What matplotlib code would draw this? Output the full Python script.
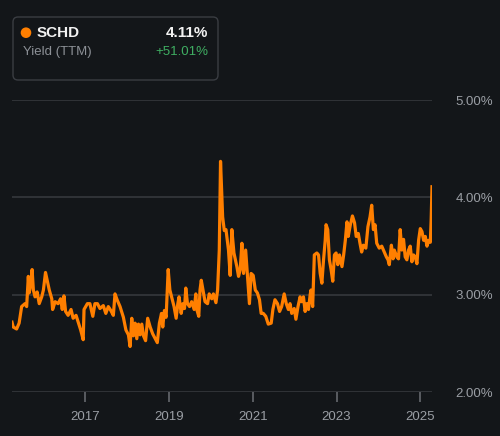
import matplotlib
matplotlib.use("Agg")
import matplotlib.pyplot as plt
from matplotlib.patches import FancyBboxPatch, Circle
from matplotlib.transforms import IdentityTransform

plt.rcParams['font.family'] = ['Liberation Sans', 'DejaVu Sans']

# --- datos: rendimiento SCHD (TTM), fecha en años decimales ---
years = [2015.25, 2015.28, 2015.36, 2015.42, 2015.48, 2015.56, 2015.60, 2015.64, 2015.66, 2015.70,
         2015.73, 2015.76, 2015.80, 2015.85, 2015.90, 2015.96, 2016.00, 2016.05, 2016.09, 2016.14,
         2016.20, 2016.22, 2016.28, 2016.35, 2016.41, 2016.45, 2016.49, 2016.53, 2016.59, 2016.66,
         2016.71, 2016.78, 2016.84, 2016.89, 2016.95, 2016.97, 2017.05, 2017.11, 2017.18, 2017.23,
         2017.29, 2017.35, 2017.43, 2017.49, 2017.55, 2017.61, 2017.67, 2017.71, 2017.76, 2017.83,
         2017.91, 2017.97, 2018.03, 2018.07, 2018.11, 2018.15, 2018.19, 2018.23, 2018.27, 2018.31,
         2018.35, 2018.39, 2018.44, 2018.49, 2018.55, 2018.61, 2018.67, 2018.72, 2018.77, 2018.82,
         2018.85, 2018.89, 2018.93, 2018.98, 2019.02, 2019.08, 2019.12, 2019.17, 2019.21, 2019.24,
         2019.29, 2019.33, 2019.37, 2019.40, 2019.44, 2019.49, 2019.54, 2019.60, 2019.64, 2019.67,
         2019.71, 2019.74, 2019.77, 2019.81, 2019.86, 2019.92, 2019.96, 2020.02, 2020.06, 2020.12,
         2020.16, 2020.20, 2020.23, 2020.26, 2020.28, 2020.32, 2020.36, 2020.42, 2020.46, 2020.50,
         2020.55, 2020.62, 2020.66, 2020.70, 2020.74, 2020.78, 2020.83, 2020.88, 2020.92, 2020.96,
         2021.01, 2021.06, 2021.11, 2021.16, 2021.20, 2021.25, 2021.31, 2021.37, 2021.44, 2021.48,
         2021.53, 2021.59, 2021.64, 2021.69, 2021.75, 2021.80, 2021.85, 2021.89, 2021.93, 2021.99,
         2022.03, 2022.08, 2022.13, 2022.17, 2022.21, 2022.25, 2022.29, 2022.33, 2022.37, 2022.39,
         2022.43, 2022.47, 2022.53, 2022.57, 2022.61, 2022.65, 2022.69, 2022.73, 2022.75, 2022.79,
         2022.83, 2022.87, 2022.91, 2022.95, 2022.99, 2023.03, 2023.07, 2023.13, 2023.17, 2023.21,
         2023.25, 2023.28, 2023.33, 2023.38, 2023.43, 2023.47, 2023.52, 2023.56, 2023.60, 2023.64,
         2023.70, 2023.75, 2023.80, 2023.84, 2023.88, 2023.92, 2023.96, 2024.02, 2024.08, 2024.14,
         2024.19, 2024.23, 2024.26, 2024.31, 2024.35, 2024.38, 2024.44, 2024.48, 2024.52, 2024.56,
         2024.60, 2024.64, 2024.68, 2024.72, 2024.76, 2024.80, 2024.84, 2024.88, 2024.92, 2024.96,
         2025.00, 2025.04, 2025.08, 2025.12, 2025.16, 2025.20, 2025.24, 2025.26, 2025.28]

yield_pct = [2.72, 2.67, 2.65, 2.71, 2.88, 2.91, 2.88, 3.19, 3.02, 3.12,
             3.26, 3.05, 2.98, 3.03, 2.91, 2.98, 3.05, 3.23, 3.15, 3.05,
             2.96, 2.85, 2.93, 2.91, 2.96, 2.85, 2.99, 2.83, 2.79, 2.85,
             2.76, 2.79, 2.71, 2.64, 2.54, 2.85, 2.91, 2.91, 2.78, 2.91,
             2.91, 2.86, 2.89, 2.81, 2.88, 2.84, 2.79, 3.01, 2.95, 2.88,
             2.77, 2.64, 2.59, 2.47, 2.76, 2.58, 2.71, 2.55, 2.70, 2.59,
             2.70, 2.58, 2.53, 2.76, 2.67, 2.60, 2.55, 2.51, 2.71, 2.81,
             2.67, 2.84, 2.77, 3.26, 3.05, 2.95, 2.88, 2.76, 2.91, 2.98,
             2.81, 2.91, 2.86, 3.07, 2.91, 2.88, 2.93, 2.85, 3.01, 2.84,
             2.78, 3.05, 3.15, 3.05, 2.93, 2.91, 3.01, 2.96, 3.01, 2.92,
             3.05, 3.46, 4.37, 4.04, 3.80, 3.66, 3.67, 3.46, 3.20, 3.67,
             3.43, 3.29, 3.19, 3.26, 3.53, 3.22, 3.46, 3.15, 2.91, 3.22,
             3.20, 3.05, 3.02, 2.95, 2.81, 2.81, 2.78, 2.70, 2.71, 2.85,
             2.95, 2.91, 2.83, 2.88, 3.01, 2.91, 2.85, 2.91, 2.81, 2.86,
             2.75, 2.88, 2.98, 2.93, 2.98, 2.83, 2.91, 2.85, 3.00, 3.05,
             2.88, 3.41, 3.43, 3.41, 3.22, 3.12, 3.36, 3.56, 3.72, 3.67,
             3.36, 3.26, 3.14, 3.41, 3.43, 3.31, 3.41, 3.29, 3.41, 3.56,
             3.75, 3.60, 3.72, 3.81, 3.74, 3.60, 3.63, 3.53, 3.44, 3.51,
             3.48, 3.70, 3.80, 3.92, 3.67, 3.72, 3.53, 3.48, 3.50, 3.44,
             3.39, 3.36, 3.31, 3.51, 3.37, 3.46, 3.39, 3.37, 3.67, 3.46,
             3.57, 3.39, 3.36, 3.46, 3.50, 3.34, 3.41, 3.39, 3.32, 3.56,
             3.68, 3.65, 3.56, 3.60, 3.50, 3.56, 3.54, 3.77, 4.11]

year_ticks = [2017, 2019, 2021, 2023, 2025]
pct_ticks = [2, 3, 4, 5]

ticker = 'SCHD'
last_value = '4.11%'
metric = 'Yield (TTM)'
change = '+51.01%'

# --- estilos ---
bg = '#131619'
grid_c = '#303337'
text_c = '#9a9ea4'
orange = '#ff7f00'
green = '#3fae62'

fig = plt.figure(figsize=(5, 4.36), dpi=100, facecolor=bg)
ax = fig.add_axes([0.024, 0.1002, 0.84, 0.6704])
ax.set_facecolor(bg)

ax.plot(years, yield_pct, color=orange, lw=2.3)

ax.set_xlim(years[0], years[-1])
ax.set_ylim(2, 5)

for v in pct_ticks:
    ax.axhline(v, color=grid_c, lw=1.4, zorder=0)

ax.yaxis.tick_right()
ax.set_yticks(pct_ticks)
ax.set_yticklabels([f'{v:.2f}%' for v in pct_ticks])
ax.tick_params(axis='y', length=0, pad=17, labelsize=9.5, labelcolor=text_c)

ax.set_xticks(year_ticks)
ax.set_xticklabels([str(y) for y in year_ticks])
ax.tick_params(axis='x', length=7.5, width=1.1, color='#6d7075', pad=6,
               labelsize=9.5, labelcolor=text_c)

for s in ax.spines.values():
    s.set_visible(False)

# --- cuadro de leyenda (en pixeles) ---
H = 436
box = FancyBboxPatch((13, H - 80), 205, 63, boxstyle='round,pad=0,rounding_size=5',
                     transform=IdentityTransform(), facecolor=bg, edgecolor='#3a3d42', lw=1)
fig.add_artist(box)
fig.add_artist(Circle((26, H - 32.7), 5.3, transform=IdentityTransform(),
                      facecolor=orange, edgecolor='none'))
fig.text(36.5 / 500, 1 - 32.7 / H, ticker, color='#f2f2f2', fontsize=11,
         fontweight='bold', va='center', ha='left')
fig.text(208.3 / 500, 1 - 32.7 / H, last_value, color='#f2f2f2', fontsize=11,
         fontweight='bold', va='center', ha='right')
fig.text(22.7 / 500, 1 - 51.7 / H, metric, color='#8c9096', fontsize=9.5,
         va='center', ha='left')
fig.text(208.3 / 500, 1 - 51.7 / H, change, color=green, fontsize=9.5,
         va='center', ha='right')

fig.savefig('out.png', dpi=100, facecolor=bg)
